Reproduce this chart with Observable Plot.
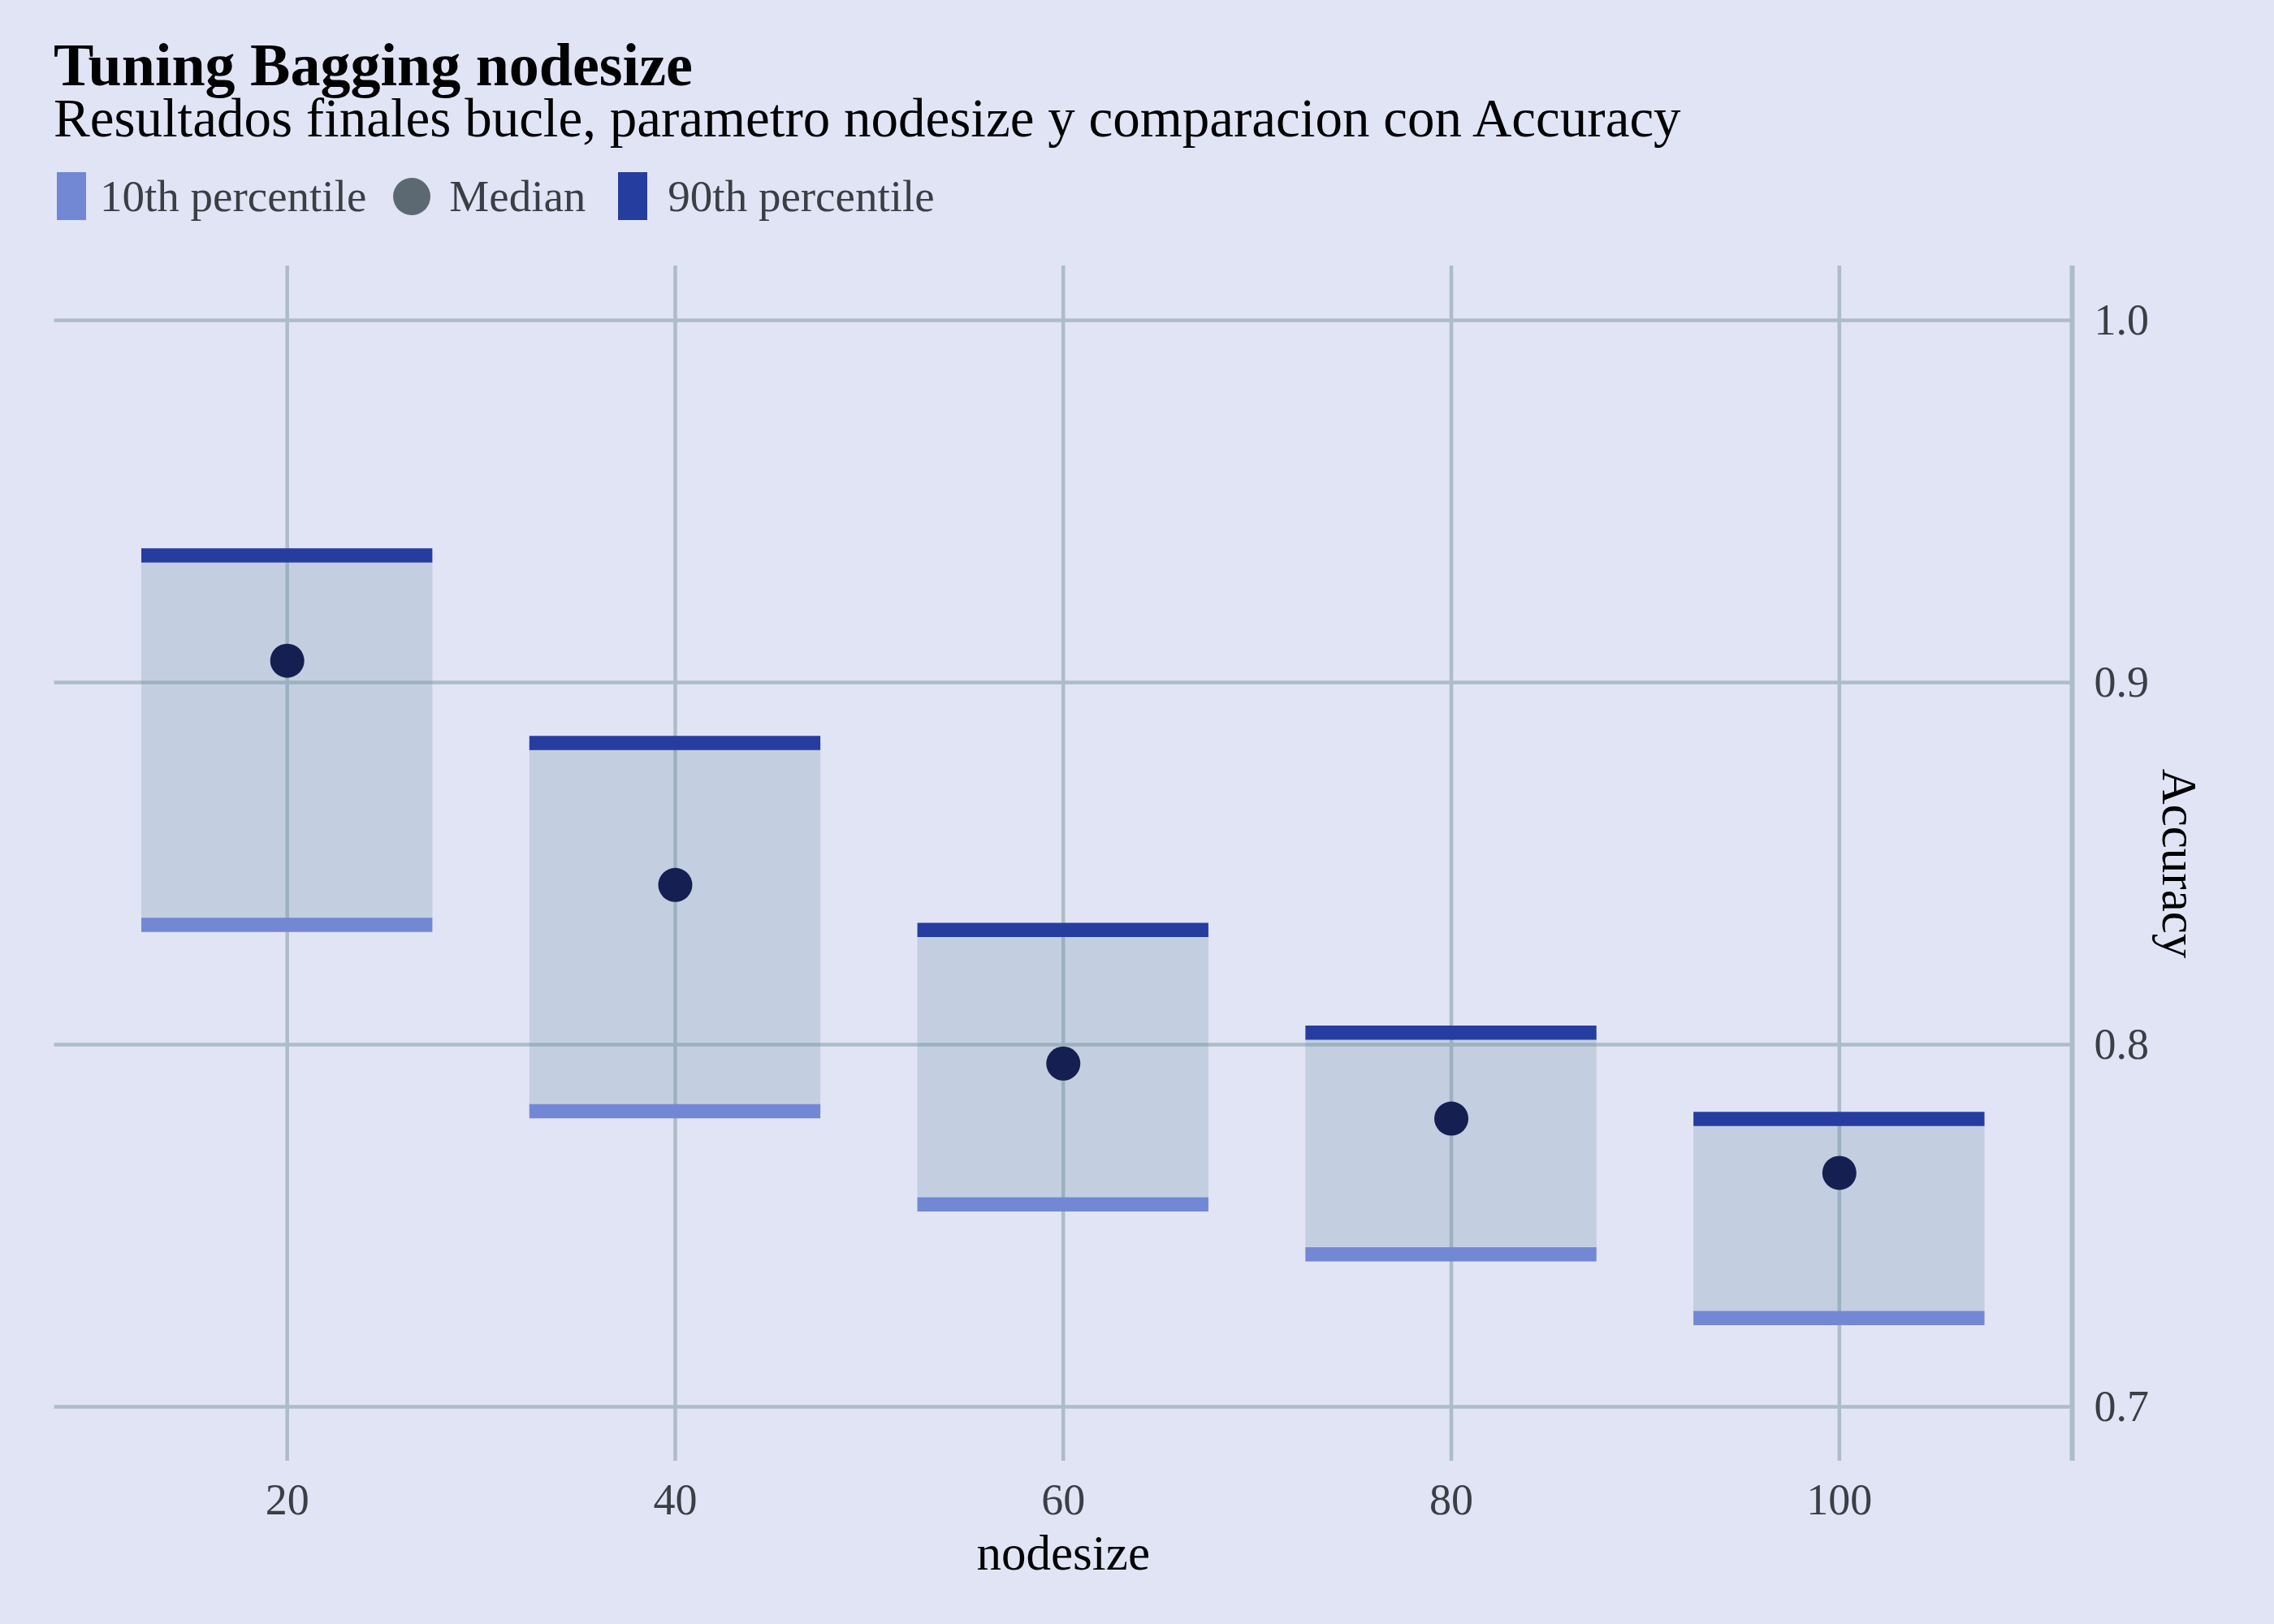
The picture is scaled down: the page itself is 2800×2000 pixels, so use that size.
<!DOCTYPE html>
<html>
<head>
<meta charset="utf-8">
<script src="https://cdn.jsdelivr.net/npm/d3@7"></script>
<script src="https://cdn.jsdelivr.net/npm/@observablehq/plot@0.6"></script>
<style>
  html, body { margin: 0; padding: 0; background: #e1e4f5; }
  #page { position: relative; width: 2800px; height: 2000px; background: #e1e4f5; font-family: "Liberation Serif", "Times New Roman", serif; }
  #title { position: absolute; left: 66px; top: 47px; font-size: 74px; line-height: 0.9; font-weight: bold; color: #000; white-space: nowrap; }
  #subtitle { position: absolute; left: 66px; top: 115px; font-size: 67px; line-height: 0.9; color: #000; white-space: nowrap; }
  #legend { position: absolute; left: 70px; top: 212px; height: 59px; display: flex; align-items: center; font-size: 55px; color: #3a3f45; white-space: nowrap; }
  .sw-rect { width: 36px; height: 59px; }
  .sw-dot { width: 46px; height: 46px; border-radius: 50%; }
  #chart { position: absolute; left: 0; top: 300px; }
</style>
</head>
<body>
<div id="page">
  <div id="title"></div>
  <div id="subtitle"></div>
  <div id="legend"></div>
  <div id="chart"></div>
</div>
<script>
// ---- data ----
const nodesize = [20, 40, 60, 80, 100];
const p10 = [0.8331, 0.7816, 0.7559, 0.7421, 0.7245];
const median = [0.9060, 0.8441, 0.7948, 0.7796, 0.7646];
const p90 = [0.9351, 0.8833, 0.8317, 0.8033, 0.7795];

const xTicks = [20, 40, 60, 80, 100];
const yTicks = [0.7, 0.8, 0.9, 1.0];
const xDomain = [8, 112];
const yDomain = [0.685, 1.015];

const titleText = "Tuning Bagging nodesize";
const subtitleText = "Resultados finales bucle, parametro nodesize y comparacion con Accuracy";
const xLabel = "nodesize";
const yLabel = "Accuracy";
const legendLabels = ["10th percentile", "Median", "90th percentile"];

// ---- styles ----
const col10 = "#7388d4";
const col90 = "#263da0";
const colMedian = "#161f52";
const colMedianKey = "#5d6972";
const colRect = "#6d90a5";
const gridColor = "#adbdc7";
const textGray = "#3a3f45";
const halfWidth = 7.5;

const rows = nodesize.map((n, i) => ({nodesize: n, p10: p10[i], median: median[i], p90: p90[i]}));

document.getElementById("title").textContent = titleText;
document.getElementById("subtitle").textContent = subtitleText;

// legend
const legend = document.getElementById("legend");
function addKey(kind, color, label, leftGap, textGap) {
  const k = document.createElement("div");
  k.className = kind === "dot" ? "sw-dot" : "sw-rect";
  k.style.background = color;
  k.style.marginLeft = leftGap + "px";
  legend.appendChild(k);
  const t = document.createElement("span");
  t.textContent = label;
  t.style.marginLeft = textGap + "px";
  legend.appendChild(t);
}
addKey("rect", col10, legendLabels[0], 0, 17);
addKey("dot", colMedianKey, legendLabels[1], 33, 23);
addKey("rect", col90, legendLabels[2], 40, 25);

const chart = Plot.plot({
  width: 2800,
  height: 1700,
  marginTop: 27,
  marginBottom: 201,
  marginLeft: 66.5,
  marginRight: 249,
  style: {background: "none", fontFamily: "'Liberation Serif', 'Times New Roman', serif"},
  x: {domain: xDomain},
  y: {domain: yDomain},
  marks: [
    Plot.gridY(yTicks, {stroke: gridColor, strokeOpacity: 1, strokeWidth: 4.5}),
    Plot.gridX(xTicks, {stroke: gridColor, strokeOpacity: 1, strokeWidth: 4.5}),
    Plot.ruleX([xDomain[1]], {stroke: gridColor, strokeWidth: 6}),
    Plot.rect(rows, {
      x1: d => d.nodesize - halfWidth, x2: d => d.nodesize + halfWidth,
      y1: "p10", y2: "p90", fill: colRect, fillOpacity: 0.25
    }),
    Plot.ruleY(rows, {y: "p90", x1: d => d.nodesize - halfWidth, x2: d => d.nodesize + halfWidth, stroke: col90, strokeWidth: 17.5}),
    Plot.ruleY(rows, {y: "p10", x1: d => d.nodesize - halfWidth, x2: d => d.nodesize + halfWidth, stroke: col10, strokeWidth: 17.5}),
    Plot.dot(rows, {x: "nodesize", y: "median", r: 21, fill: colMedian, stroke: "none"}),
    Plot.axisX(xTicks, {tickSize: 0, tickPadding: 27, fontSize: 54, color: textGray, label: null}),
    Plot.axisY(yTicks, {anchor: "right", tickSize: 0, tickPadding: 27, fontSize: 54, color: textGray, tickFormat: d3.format(".1f"), label: null}),
    Plot.text([xLabel], {text: d => d, frameAnchor: "bottom", lineAnchor: "middle", textAnchor: "middle", dy: 113.5, fontSize: 61, fill: "#000"}),
    Plot.text([yLabel], {text: d => d, frameAnchor: "right", lineAnchor: "middle", textAnchor: "middle", rotate: 90, dx: 131.5, fontSize: 61, fill: "#000"})
  ]
});
document.getElementById("chart").appendChild(chart);
</script>
</body>
</html>
